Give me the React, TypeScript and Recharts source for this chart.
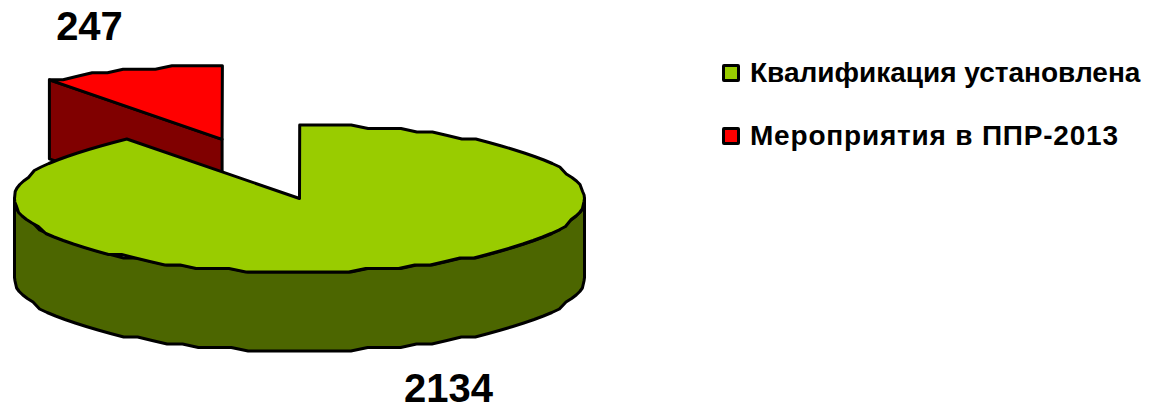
import { PieChart, Pie, Legend } from "recharts";

const categories = ["Квалификация установлена", "Мероприятия в ППР-2013"];
const values = [2134, 247];
const topColors = ["#99CC00", "#FF0000"];
const wallColors = ["#4C6600", "#800000"];

// red goes first so the big slice paints over its wall
const data = [
  { name: categories[1], value: values[1], fill: topColors[1], wall: wallColors[1], pull: 0.85 },
  { name: categories[0], value: values[0], fill: topColors[0], wall: wallColors[0], pull: 0 },
];

const SQUASH = 0.258;
const DEPTH = 79;
const RAD = Math.PI / 180;

const snap = (v: number) => Math.round(v / 3.5) * 3.5;

const Slice3D = (props: any) => {
  const { cx, cy, outerRadius: r, startAngle, endAngle, midAngle, fill, payload } = props;
  const pull = (payload?.pull ?? 0) * r;
  const ox = cx + pull * Math.cos(midAngle * RAD);
  const oy = cy - pull * Math.sin(midAngle * RAD) * SQUASH;
  const pt = (a: number, drop = 0): [number, number] => [
    ox + r * Math.cos(a * RAD),
    oy + drop + snap(-r * Math.sin(a * RAD) * SQUASH),
  ];
  const arc = (from: number, to: number, drop = 0) => {
    const n = Math.max(1, Math.ceil(Math.abs(to - from) / 3.5));
    const pts: [number, number][] = [];
    for (let i = 0; i <= n; i++) pts.push(pt(from + ((to - from) * i) / n, drop));
    return pts;
  };
  const path = (pts: [number, number][]) =>
    "M" + pts.map((p) => p[0].toFixed(1) + "," + p[1].toFixed(1)).join("L") + "Z";

  const parts: string[] = [];
  // outer wall, only the part facing the viewer
  const a0 = Math.min(startAngle, 0);
  const a1 = Math.max(endAngle, -180);
  if (a0 > a1) parts.push(path([...arc(a0, a1), ...arc(a1, a0, DEPTH)]));
  // cut wall at the far edge of the pulled slice
  if (pull > 0) {
    const start = Math.max(startAngle, endAngle);
    const rim = pt(start);
    parts.push(path([[ox, oy], rim, [rim[0], rim[1] + DEPTH], [ox, oy + DEPTH]]));
  }
  return (
    <g stroke="#000" strokeWidth={3} strokeLinejoin="round">
      {parts.map((d, i) => (
        <path key={i} d={d} fill={payload?.wall} />
      ))}
      <path d={path([[ox, oy], ...arc(startAngle, endAngle)])} fill={fill} />
    </g>
  );
};

const renderLabel = (props: any) => {
  const { cx, cy, value, payload } = props;
  const pulled = payload?.pull > 0;
  return (
    <text
      x={cx + (pulled ? -210 : 149)}
      y={cy + (pulled ? -173 : 189)}
      textAnchor="middle"
      dominantBaseline="central"
      fontFamily="Liberation Sans"
      fontWeight="bold"
      fontSize={40}
      fill="#000"
    >
      {value}
    </text>
  );
};

const renderLegend = (props: any) => (
  <div style={{ fontFamily: "Liberation Sans", fontWeight: "bold", fontSize: 28, color: "#000" }}>
    {props.payload.map((item: any) => (
      <div
        key={item.value}
        style={{
          display: "flex",
          alignItems: "center",
          height: 63.5,
          whiteSpace: "nowrap",
          letterSpacing: item.value === categories[1] ? 0.8 : 0,
        }}
      >
        <span
          style={{
            width: 12,
            height: 12,
            background: item.color,
            border: "3px solid #000",
            borderRadius: 2,
            marginRight: 10,
          }}
        />
        {item.value}
      </div>
    ))}
  </div>
);

export default function App() {
  return (
    <div style={{ position: "absolute", left: 0, top: 0, width: 1165, height: 404, overflow: "hidden" }}>
      <PieChart width={1165} height={404} margin={{ top: 0, right: 0, bottom: 0, left: 0 }}>
        <Pie
          data={data}
          dataKey="value"
          nameKey="name"
          cx={299.5}
          cy={198.5}
          outerRadius={285}
          startAngle={127.3}
          endAngle={-232.7}
          stroke="none"
          shape={Slice3D}
          label={renderLabel}
          labelLine={false}
          isAnimationActive={false}
        />
        <Legend
          layout="vertical"
          content={renderLegend}
          wrapperStyle={{ left: 722, top: 41, width: 440 }}
        />
      </PieChart>
    </div>
  );
}
